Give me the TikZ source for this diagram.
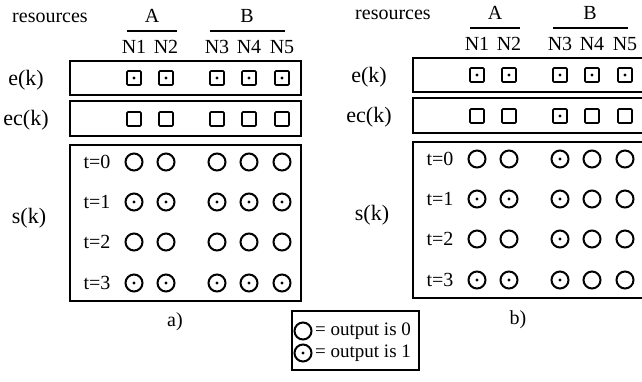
\documentclass[tikz,border=0pt]{standalone}
\usepackage{fontspec}
\setmainfont{Liberation Serif}

\begin{document}
\begin{tikzpicture}[x=1pt,y=-1pt,
  lbl/.style={font=\fontsize{20}{22}\selectfont, inner sep=0pt},
  rowlbl/.style={font=\fontsize{22}{24}\selectfont, inner sep=0pt},
  frame/.style={line width=1.5pt},
  ecell/.style={draw, line width=1.6pt, minimum size=14pt, inner sep=0pt, rounded corners=1pt},
  scell/.style={draw, circle, line width=2pt, minimum size=17pt, inner sep=0pt}]
  \useasboundingbox (0,0) rectangle (642,382);
  \clip (0,0) rectangle (642,382);

  \foreach \p/\dx/\dy in {a/0/0, b/343/-3} {
    \begin{scope}[shift={(\dx,\dy)}]
      \node[lbl] (res-\p) at (50,18) {resources};
      \node[lbl] (A-\p) at (152,16) {A};
      \node[lbl] (B-\p) at (247,16) {B};
      \draw[frame] (127,31) -- (177,31);
      \draw[frame] (210,31) -- (285,31);
      \draw[frame] (70,61) rectangle (301,95);
      \draw[frame] (70,101) rectangle (301,136);
      \draw[frame] (70,145) rectangle (301,301);
      \node[rowlbl] (e-\p) at (26,80) {e(k)};
      \node[rowlbl] (ec-\p) at (26,120) {ec(k)};
      \node[rowlbl] (s-\p) at (29,218) {s(k)};
      \foreach \t/\y in {0/162,1/202,2/242,3/283}
        \node[lbl] (t\t-\p) at (97,\y) {t=\t};
      \foreach \i/\x in {1/134,2/166,3/217,4/249,5/282} {
        \node[lbl] (N\i-\p) at (\x,47) {N\i};
        \node[ecell] (e\i-\p) at (\x,78) {};
        \node[ecell] (ec\i-\p) at (\x,119) {};
        \foreach \t/\y in {0/162,1/202,2/242,3/283}
          \node[scell] (s\t\i-\p) at (\x,\y) {};
      }
    \end{scope}
  }

  % cells that are set
  \foreach \n in {e1-a,e2-a,e3-a,e4-a,e5-a,
                  s11-a,s12-a,s13-a,s14-a,s15-a,
                  s31-a,s32-a,s33-a,s34-a,s35-a,
                  e1-b,e2-b,e3-b,e4-b,e5-b,ec3-b,
                  s03-b,s11-b,s12-b,s13-b,s23-b,s31-b,s32-b,s33-b}
    \fill (\n) circle (1.6pt);

  \node[lbl] (cap-a) at (175,322) {a)};
  \node[lbl] (cap-b) at (518,320) {b)};

  \draw[frame] (292,311) rectangle (419,370);
  \node[scell] (key0) at (303,331) {};
  \node[scell] (key1) at (303,353) {};
  \fill (key1) circle (1.6pt);
  \node[lbl, anchor=west, font=\fontsize{19}{21}\selectfont] (key0-txt) at (315,331) {= output is 0};
  \node[lbl, anchor=west, font=\fontsize{19}{21}\selectfont] (key1-txt) at (315,353) {= output is 1};
\end{tikzpicture}
\end{document}
